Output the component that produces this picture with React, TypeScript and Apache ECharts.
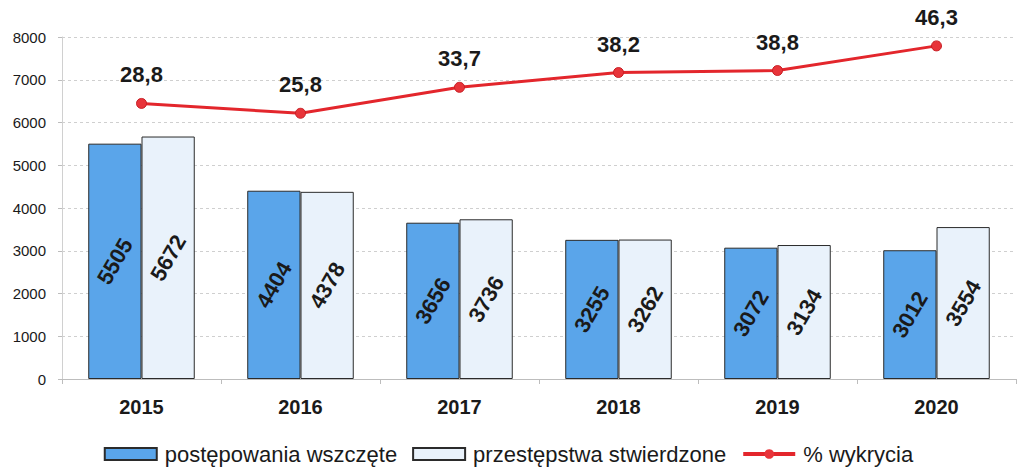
import React, { useEffect, useRef } from "react";
import * as echarts from "echarts";

const categories = ["2015", "2016", "2017", "2018", "2019", "2020"];
const wszczete = [5505, 4404, 3656, 3255, 3072, 3012];
const stwierdzone = [5672, 4378, 3736, 3262, 3134, 3554];
const wykrycie = [28.8, 25.8, 33.7, 38.2, 38.8, 46.3];
const yTicks = [0, 1000, 2000, 3000, 4000, 5000, 6000, 7000, 8000];

const FONT = "'Liberation Sans', Arial, sans-serif";

export default function App() {
  const ref = useRef<HTMLDivElement>(null);
  useEffect(() => {
    if (!ref.current) return;
    const chart = echarts.init(ref.current, undefined, { renderer: "svg" });
    const barLabel = {
      show: true,
      position: "inside",
      rotate: 60,
      fontSize: 22,
      fontWeight: "bold",
      fontFamily: FONT,
      color: "#1a1a1a",
    };
    chart.setOption({
      animation: false,
      backgroundColor: "#ffffff",
      textStyle: { fontFamily: FONT },
      grid: { left: 62, right: 1, top: 37, bottom: 91, containLabel: false },
      legend: {
        bottom: 0,
        left: "center",
        itemGap: 15,
        itemWidth: 52,
        itemHeight: 12,
        textStyle: { fontSize: 22, color: "#1a1a1a", fontFamily: FONT, padding: [0, 0, 0, 3] },
        data: [
          { name: "postępowania wszczęte", icon: "rect" },
          { name: "przestępstwa stwierdzone", icon: "rect" },
          { name: "% wykrycia", itemStyle: { borderWidth: 0 }, lineStyle: { width: 4 } },
        ],
      },
      xAxis: {
        type: "category",
        data: categories,
        axisLine: { show: true, lineStyle: { color: "#bdbdbd" } },
        axisTick: { show: true, length: 5, lineStyle: { color: "#bdbdbd" } },
        axisLabel: {
          fontSize: 20,
          fontWeight: "bold",
          color: "#1a1a1a",
          margin: 18,
          fontFamily: FONT,
        },
      },
      yAxis: [
        {
          type: "value",
          min: 0,
          max: 8000,
          interval: 1000,
          axisLine: { show: true, lineStyle: { color: "#d0d0d0" } },
          axisTick: { show: true, length: 4, lineStyle: { color: "#bdbdbd" } },
          axisLabel: {
            fontSize: 15,
            color: "#1a1a1a",
            margin: 16,
            fontFamily: FONT,
            formatter: (v: number) => (yTicks.includes(v) ? String(v) : ""),
          },
          splitLine: { show: true, lineStyle: { color: "#cfcfcf", type: [3, 3], width: 1 } },
        },
        {
          type: "value",
          min: -55,
          max: 49,
          show: false,
          splitLine: { show: false },
        },
      ],
      series: [
        {
          name: "postępowania wszczęte",
          type: "bar",
          data: wszczete,
          barGap: "0%",
          barCategoryGap: "33%",
          itemStyle: { color: "#5aa5ea", borderColor: "#2b2b2b", borderWidth: 1 },
          label: barLabel,
        },
        {
          name: "przestępstwa stwierdzone",
          type: "bar",
          data: stwierdzone,
          barGap: "0%",
          barCategoryGap: "33%",
          itemStyle: { color: "#e9f2fb", borderColor: "#2b2b2b", borderWidth: 1 },
          label: barLabel,
        },
        {
          name: "% wykrycia",
          type: "line",
          yAxisIndex: 1,
          data: wykrycie,
          symbol: "circle",
          symbolSize: 10,
          lineStyle: { color: "#e3262c", width: 3 },
          itemStyle: { color: "#e8343a", borderColor: "#c81e24", borderWidth: 1 },
          label: {
            show: true,
            position: "top",
            distance: 12,
            fontSize: 22,
            fontWeight: "bold",
            color: "#1a1a1a",
            fontFamily: FONT,
            formatter: (p: any) => String(p.value).replace(".", ","),
          },
        },
      ],
    });
    return () => chart.dispose();
  }, []);
  return <div ref={ref} style={{ width: 1017, height: 470, position: "absolute", left: 0, top: 0 }} />;
}
